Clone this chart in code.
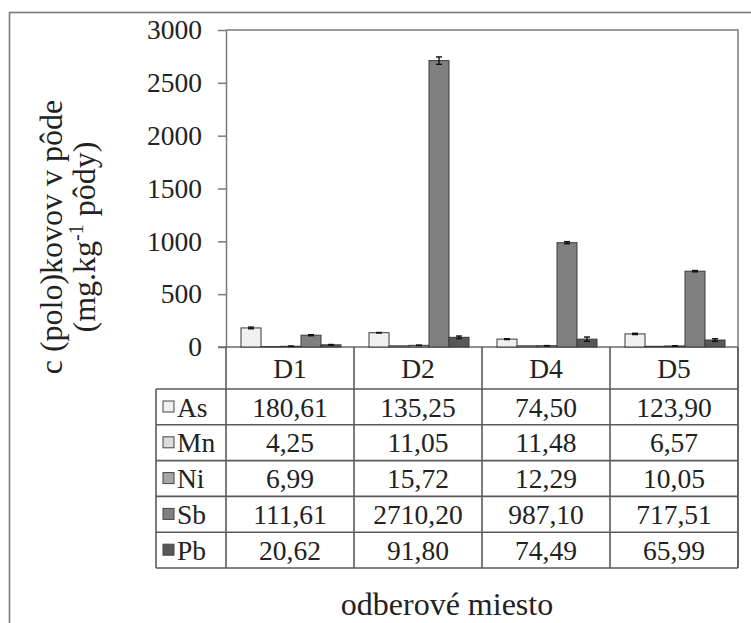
<!DOCTYPE html>
<html>
<head>
<script src="https://cdn.jsdelivr.net/npm/d3@7"></script>
</head>
<body style="margin:0">
<div id="wrapper"></div>
<script>
// data
const sites = ['D1', 'D2', 'D4', 'D5'];
const metals = ['As', 'Mn', 'Ni', 'Sb', 'Pb'];
const asValues = [180.61, 135.25, 74.5, 123.9];
const mnValues = [4.25, 11.05, 11.48, 6.57];
const niValues = [6.99, 15.72, 12.29, 10.05];
const sbValues = [111.61, 2710.2, 987.1, 717.51];
const pbValues = [20.62, 91.8, 74.49, 65.99];
// error bars
const asErrors = [8, 2, 4, 6];
const mnErrors = [0, 0, 0, 0];
const niErrors = [1, 2, 1, 1];
const sbErrors = [5, 35, 10, 6];
const pbErrors = [3, 12, 20, 12];
const yTicks = [0, 500, 1000, 1500, 2000, 2500, 3000];
const colors = ['#f0f0f0', '#dcdcdc', '#a6a6a6', '#808080', '#585858'];

const valuesByMetal = [asValues, mnValues, niValues, sbValues, pbValues];
const errorsByMetal = [asErrors, mnErrors, niErrors, sbErrors, pbErrors];

const fontName = 'Liberation Serif';

function drawChart() {
  const dimensions = {
    width: 751,
    height: 623,
    plotLeft: 226,
    plotRight: 738,
    plotTop: 30,
    plotBottom: 347,
    headerBottom: 389,
    rowHeight: 35.8,
    legendLeft: 156,
  };
  const tableBottom = dimensions.headerBottom + metals.length * dimensions.rowHeight;
  const fontSize = 27.5;

  const svg = d3
    .select('#wrapper')
    .append('svg')
    .attr('width', dimensions.width)
    .attr('height', dimensions.height);

  // outer frame
  svg
    .append('rect')
    .attr('x', 9.5)
    .attr('y', 12.5)
    .attr('width', 780)
    .attr('height', 660)
    .attr('fill', 'none')
    .attr('stroke', '#7a7a7a')
    .attr('stroke-width', 1.6);

  // scales
  const x0 = d3
    .scaleBand()
    .domain(sites)
    .range([dimensions.plotLeft, dimensions.plotRight]);

  const x1 = d3
    .scaleBand()
    .domain(metals)
    .range([15, x0.bandwidth() - 13]);

  const yScale = d3
    .scaleLinear()
    .domain([0, 3000])
    .range([dimensions.plotBottom, dimensions.plotTop]);

  // plot frame top + right
  svg
    .append('path')
    .attr(
      'd',
      `M${dimensions.plotLeft},${dimensions.plotTop}H${dimensions.plotRight}V${tableBottom}`
    )
    .attr('fill', 'none')
    .attr('stroke', '#7a7a7a')
    .attr('stroke-width', 1.5);

  // y axis
  const yAxis = d3
    .axisLeft(yScale)
    .tickValues(yTicks)
    .tickSize(8)
    .tickSizeOuter(0)
    .tickPadding(16)
    .tickFormat(d3.format('d'));

  const yAxisGroup = svg
    .append('g')
    .attr('transform', `translate(${dimensions.plotLeft}, 0)`)
    .call(yAxis);
  yAxisGroup.selectAll('line, path').attr('stroke', '#7a7a7a').attr('stroke-width', 1.5);
  yAxisGroup
    .selectAll('text')
    .attr('fill', '#222')
    .attr('font-family', fontName)
    .attr('font-size', fontSize);

  // zero line
  svg
    .append('line')
    .attr('x1', dimensions.plotLeft - 8)
    .attr('x2', dimensions.plotRight)
    .attr('y1', yScale(0))
    .attr('y2', yScale(0))
    .attr('stroke', '#6a6a6a')
    .attr('stroke-width', 1.6);

  // bars
  const groups = svg
    .append('g')
    .selectAll('g')
    .data(sites)
    .join('g')
    .attr('transform', (d) => `translate(${x0(d)}, 0)`);

  groups
    .selectAll('rect')
    .data((d, i) => metals.map((m, j) => ({ metal: m, value: valuesByMetal[j][i], idx: j })))
    .join('rect')
    .attr('x', (d) => x1(d.metal))
    .attr('y', (d) => yScale(d.value))
    .attr('width', x1.bandwidth())
    .attr('height', (d) => yScale(0) - yScale(d.value))
    .attr('fill', (d) => colors[d.idx])
    .attr('stroke', '#3a3a3a')
    .attr('stroke-width', 1);

  // error bars
  const errGroups = groups
    .selectAll('g.err')
    .data((d, i) =>
      metals
        .map((m, j) => ({ metal: m, value: valuesByMetal[j][i], error: errorsByMetal[j][i] }))
        .filter((d) => d.error > 0)
    )
    .join('g')
    .attr('class', 'err')
    .attr('stroke', '#111')
    .attr('stroke-width', 1.4);

  errGroups
    .append('line')
    .attr('x1', (d) => x1(d.metal) + x1.bandwidth() / 2)
    .attr('x2', (d) => x1(d.metal) + x1.bandwidth() / 2)
    .attr('y1', (d) => yScale(d.value - d.error))
    .attr('y2', (d) => yScale(d.value + d.error));

  errGroups
    .selectAll('line.cap')
    .data((d) => [
      { d, v: d.value + d.error },
      { d, v: d.value - d.error },
    ])
    .join('line')
    .attr('class', 'cap')
    .attr('x1', (c) => x1(c.d.metal) + x1.bandwidth() / 2 - 3)
    .attr('x2', (c) => x1(c.d.metal) + x1.bandwidth() / 2 + 3)
    .attr('y1', (c) => yScale(c.v))
    .attr('y2', (c) => yScale(c.v));

  // data table
  const table = svg.append('g');
  const lineColor = '#5a5a5a';

  // vertical lines
  const colEdges = sites.map((s) => x0(s)).concat([dimensions.plotRight]);
  table
    .selectAll('line.v')
    .data(colEdges)
    .join('line')
    .attr('x1', (d) => d)
    .attr('x2', (d) => d)
    .attr('y1', dimensions.plotBottom)
    .attr('y2', tableBottom)
    .attr('stroke', lineColor)
    .attr('stroke-width', 1.6);

  table
    .append('line')
    .attr('x1', dimensions.legendLeft)
    .attr('x2', dimensions.legendLeft)
    .attr('y1', dimensions.headerBottom)
    .attr('y2', tableBottom)
    .attr('stroke', lineColor)
    .attr('stroke-width', 1.6);

  // horizontal lines
  const rowEdges = d3.range(metals.length + 1).map((i) => dimensions.headerBottom + i * dimensions.rowHeight);
  table
    .selectAll('line.h')
    .data(rowEdges)
    .join('line')
    .attr('x1', dimensions.legendLeft)
    .attr('x2', dimensions.plotRight)
    .attr('y1', (d) => d)
    .attr('y2', (d) => d)
    .attr('stroke', lineColor)
    .attr('stroke-width', 1.6);

  // header labels
  table
    .selectAll('text.head')
    .data(sites)
    .join('text')
    .attr('x', (d) => x0(d) + x0.bandwidth() / 2)
    .attr('y', 378)
    .attr('text-anchor', 'middle')
    .attr('font-family', fontName)
    .attr('font-size', fontSize)
    .attr('fill', '#222')
    .text((d) => d);

  const locale = d3.formatLocale({ decimal: ',', thousands: '', grouping: [3], currency: ['', ''] });
  const fmt = locale.format('.2f');

  // rows
  metals.forEach((m, j) => {
    const rowTop = dimensions.headerBottom + j * dimensions.rowHeight;
    table
      .append('rect')
      .attr('x', 163)
      .attr('y', rowTop + 12)
      .attr('width', 11)
      .attr('height', 11)
      .attr('fill', colors[j])
      .attr('stroke', '#444')
      .attr('stroke-width', 1);
    table
      .append('text')
      .attr('x', 177)
      .attr('y', rowTop + 27.5)
      .attr('font-family', fontName)
      .attr('font-size', fontSize)
      .attr('fill', '#222')
      .text(m);
    table
      .selectAll(null)
      .data(valuesByMetal[j])
      .join('text')
      .attr('x', (d, i) => x0(sites[i]) + x0.bandwidth() / 2)
      .attr('y', rowTop + 27.5)
      .attr('text-anchor', 'middle')
      .attr('font-family', fontName)
      .attr('font-size', fontSize)
      .attr('fill', '#222')
      .text((d) => fmt(d));
  });

  // axis titles
  const yTitle = svg
    .append('text')
    .attr('transform', 'translate(62, 237) rotate(-90)')
    .attr('text-anchor', 'middle')
    .attr('font-family', fontName)
    .attr('fill', '#222')
    .attr('font-size', 32);
  yTitle.append('tspan').attr('x', 0).attr('y', 0).text('c (polo)kovov v pôde');
  const line2 = yTitle.append('tspan').attr('x', 0).attr('y', 33);
  line2.append('tspan').text('(mg.kg');
  line2.append('tspan').attr('dy', -12).attr('font-size', 20).text('-1');
  line2.append('tspan').attr('dy', 12).text(' pôdy)');

  svg
    .append('text')
    .attr('x', 447)
    .attr('y', 615)
    .attr('text-anchor', 'middle')
    .attr('font-family', fontName)
    .attr('fill', '#222')
    .attr('font-size', 32)
    .text('odberové miesto');
}
drawChart();
</script>
</body>
</html>
